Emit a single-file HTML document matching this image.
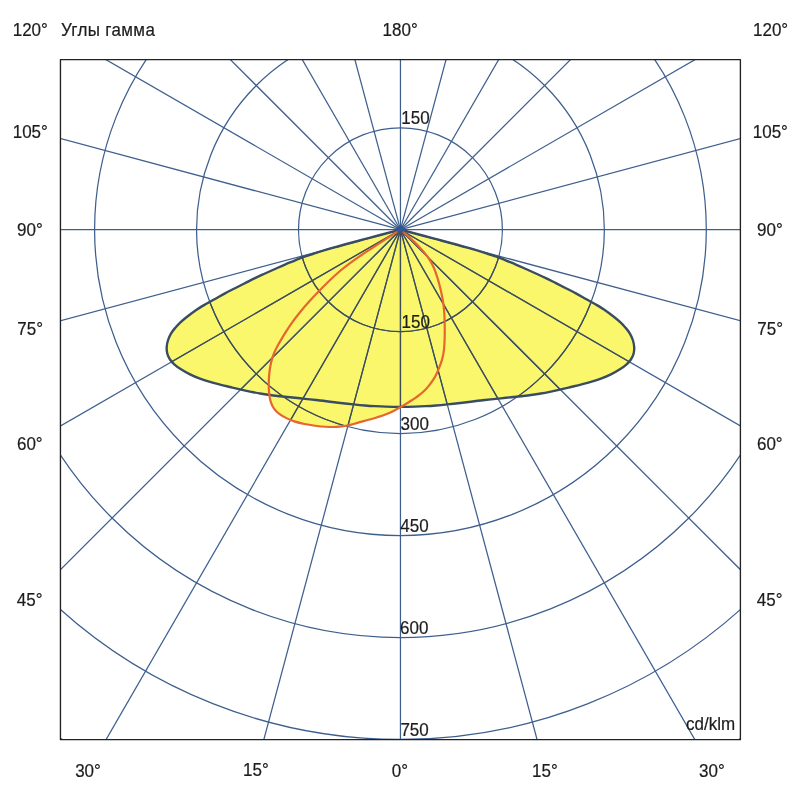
<!DOCTYPE html>
<html><head><meta charset="utf-8"><style>
html,body{margin:0;padding:0;background:#fff;width:800px;height:800px;overflow:hidden}
svg{display:block}
text{font-family:"Liberation Sans",sans-serif;font-size:17.0px;fill:#1c1c1c;stroke:#1c1c1c;stroke-width:0.2px}
</style></head><body>
<svg width="800" height="800" viewBox="0 0 800 800">
<defs><clipPath id="y"><path d="M400.45,229.70 C394.81,231.19 377.81,235.64 366.61,238.64 C355.41,241.64 344.00,244.59 333.26,247.71 C322.53,250.84 307.38,255.79 302.20,257.40 C300.93,257.94 297.45,259.44 294.58,260.63 C291.71,261.83 288.26,263.18 285.00,264.57 C281.74,265.97 278.33,267.51 275.00,269.00 C271.67,270.49 268.33,271.98 265.00,273.50 C261.67,275.02 258.33,276.49 255.00,278.11 C251.67,279.72 248.33,281.49 245.00,283.17 C241.67,284.85 238.33,286.51 235.00,288.20 C231.67,289.89 228.33,291.53 225.00,293.32 C221.67,295.11 218.33,297.08 215.00,298.95 C211.67,300.83 208.31,302.63 205.00,304.57 C201.69,306.52 198.24,308.55 195.15,310.65 C192.06,312.75 188.95,315.21 186.45,317.20 C183.95,319.19 182.03,320.79 180.15,322.57 C178.27,324.36 176.66,326.14 175.15,327.93 C173.65,329.71 172.30,331.29 171.12,333.30 C169.94,335.31 168.81,337.72 168.07,340.00 C167.33,342.28 166.82,344.70 166.70,347.00 C166.58,349.30 166.78,351.72 167.33,353.80 C167.88,355.89 168.85,357.79 170.01,359.53 C171.17,361.28 172.50,362.71 174.27,364.28 C176.04,365.86 177.98,367.32 180.60,368.99 C183.22,370.67 186.77,372.75 190.00,374.36 C193.23,375.97 196.67,377.39 200.00,378.65 C203.33,379.91 206.67,380.92 210.00,381.91 C213.33,382.90 216.67,383.72 220.00,384.57 C223.33,385.42 226.67,386.20 230.00,387.01 C233.33,387.83 236.67,388.68 240.00,389.44 C243.33,390.20 246.67,390.90 250.00,391.59 C253.33,392.27 256.67,392.95 260.00,393.52 C263.33,394.10 266.67,394.59 270.00,395.04 C273.33,395.49 276.67,395.83 280.00,396.20 C283.33,396.57 286.67,396.93 290.00,397.29 C293.33,397.64 296.67,397.96 300.00,398.31 C303.33,398.66 306.67,399.03 310.00,399.38 C313.33,399.74 316.67,400.06 320.00,400.44 C323.33,400.83 326.57,401.27 330.00,401.69 C333.43,402.10 336.68,402.50 340.60,402.94 C344.53,403.39 349.51,403.92 353.55,404.34 C357.59,404.76 361.27,405.13 364.85,405.44 C368.42,405.75 371.51,405.97 375.00,406.17 C378.49,406.37 381.58,406.54 385.82,406.65 C390.06,406.77 395.57,406.84 400.45,406.84 C405.33,406.84 410.84,406.77 415.08,406.66 C419.32,406.54 422.41,406.37 425.90,406.17 C429.39,405.97 432.47,405.74 436.05,405.44 C439.62,405.13 443.31,404.76 447.35,404.34 C451.39,403.92 456.37,403.39 460.30,402.94 C464.22,402.50 467.47,402.10 470.90,401.69 C474.33,401.27 477.57,400.83 480.90,400.44 C484.23,400.06 487.57,399.74 490.90,399.38 C494.23,399.03 497.57,398.67 500.90,398.32 C504.23,397.97 507.57,397.64 510.90,397.29 C514.23,396.93 517.57,396.57 520.90,396.20 C524.23,395.83 527.57,395.49 530.90,395.04 C534.23,394.59 537.57,394.10 540.90,393.52 C544.23,392.95 547.57,392.27 550.90,391.59 C554.23,390.90 557.57,390.20 560.90,389.44 C564.23,388.68 567.57,387.83 570.90,387.01 C574.23,386.20 577.57,385.42 580.90,384.57 C584.23,383.72 587.57,382.90 590.90,381.91 C594.23,380.92 597.57,379.91 600.90,378.65 C604.23,377.39 607.67,375.97 610.90,374.36 C614.13,372.75 617.68,370.67 620.30,368.99 C622.92,367.32 624.86,365.86 626.63,364.28 C628.39,362.71 629.73,361.28 630.89,359.53 C632.05,357.79 633.02,355.89 633.57,353.81 C634.12,351.72 634.32,349.30 634.20,347.00 C634.08,344.70 633.57,342.28 632.83,340.00 C632.09,337.72 630.96,335.31 629.78,333.30 C628.60,331.29 627.25,329.71 625.75,327.93 C624.24,326.14 622.63,324.36 620.75,322.57 C618.87,320.79 616.95,319.19 614.45,317.20 C611.95,315.21 608.84,312.75 605.75,310.65 C602.66,308.55 599.21,306.52 595.90,304.57 C592.59,302.63 589.23,300.83 585.90,298.95 C582.57,297.08 579.23,295.11 575.90,293.32 C572.57,291.53 569.23,289.89 565.90,288.20 C562.57,286.51 559.23,284.85 555.90,283.17 C552.57,281.49 549.23,279.72 545.90,278.10 C542.57,276.49 539.23,275.02 535.90,273.50 C532.57,271.98 529.23,270.49 525.90,269.00 C522.57,267.51 519.16,265.97 515.90,264.57 C512.64,263.18 509.19,261.83 506.32,260.63 C503.45,259.44 499.97,257.94 498.70,257.40 C493.52,255.79 478.37,250.84 467.64,247.71 C456.90,244.59 445.49,241.64 434.29,238.64 C423.09,235.64 406.09,231.19 400.45,229.70 Z"/><path d="M400.45,229.70 C395.05,233.19 376.35,245.17 368.07,250.65 C359.78,256.14 355.43,259.20 350.75,262.59 C346.07,265.99 343.48,268.06 340.00,271.01 C336.52,273.96 333.30,276.98 329.85,280.27 C326.40,283.56 322.63,287.35 319.30,290.77 C315.97,294.20 313.07,297.23 309.85,300.80 C306.63,304.38 303.23,308.23 300.00,312.22 C296.77,316.22 293.24,320.80 290.45,324.77 C287.66,328.75 285.35,332.68 283.28,336.05 C281.22,339.42 279.59,342.09 278.03,345.00 C276.47,347.91 275.07,350.64 273.92,353.50 C272.78,356.36 271.90,359.12 271.16,362.16 C270.43,365.21 269.92,368.41 269.52,371.75 C269.12,375.09 268.84,378.72 268.76,382.20 C268.69,385.68 268.77,389.37 269.09,392.65 C269.42,395.93 269.92,399.25 270.74,401.90 C271.56,404.55 272.59,406.56 274.01,408.55 C275.44,410.54 277.25,412.25 279.31,413.85 C281.38,415.45 283.91,416.87 286.41,418.13 C288.92,419.40 291.35,420.44 294.36,421.42 C297.38,422.41 301.04,423.32 304.50,424.03 C307.96,424.75 311.56,425.27 315.10,425.73 C318.64,426.18 322.15,426.57 325.71,426.76 C329.27,426.96 332.84,427.08 336.46,426.88 C340.08,426.67 343.78,426.22 347.41,425.51 C351.04,424.81 354.38,423.65 358.23,422.62 C362.07,421.58 366.13,420.56 370.45,419.29 C374.77,418.02 380.25,416.44 384.16,415.01 C388.07,413.59 391.09,412.11 393.90,410.75 C396.70,409.39 398.38,408.35 400.98,406.84 C403.57,405.33 406.93,403.28 409.47,401.70 C412.01,400.11 413.93,398.98 416.22,397.33 C418.52,395.68 421.07,393.86 423.26,391.82 C425.45,389.78 427.44,387.47 429.35,385.06 C431.27,382.66 433.16,380.07 434.72,377.38 C436.28,374.69 437.50,371.85 438.70,368.93 C439.91,366.00 441.10,363.07 441.98,359.85 C442.86,356.63 443.53,353.35 443.98,349.62 C444.43,345.90 444.55,341.59 444.67,337.50 C444.79,333.41 444.76,329.11 444.70,325.07 C444.64,321.04 444.55,317.02 444.30,313.30 C444.06,309.58 443.77,306.45 443.22,302.78 C442.67,299.10 441.94,295.29 441.02,291.27 C440.10,287.26 438.94,282.71 437.70,278.69 C436.47,274.68 435.19,270.72 433.61,267.20 C432.02,263.69 430.49,260.88 428.19,257.61 C425.89,254.33 422.83,250.84 419.81,247.56 C416.79,244.28 413.29,240.88 410.07,237.90 C406.84,234.92 402.05,231.07 400.45,229.70 Z"/></clipPath><clipPath id="c"><rect x="60.45" y="59.6" width="679.9499999999999" height="680.1"/></clipPath></defs>
<rect width="800" height="800" fill="#fff"/>
<g clip-path="url(#c)">
<path d="M400.45,229.70 C394.81,231.19 377.81,235.64 366.61,238.64 C355.41,241.64 344.00,244.59 333.26,247.71 C322.53,250.84 307.38,255.79 302.20,257.40 C300.93,257.94 297.45,259.44 294.58,260.63 C291.71,261.83 288.26,263.18 285.00,264.57 C281.74,265.97 278.33,267.51 275.00,269.00 C271.67,270.49 268.33,271.98 265.00,273.50 C261.67,275.02 258.33,276.49 255.00,278.11 C251.67,279.72 248.33,281.49 245.00,283.17 C241.67,284.85 238.33,286.51 235.00,288.20 C231.67,289.89 228.33,291.53 225.00,293.32 C221.67,295.11 218.33,297.08 215.00,298.95 C211.67,300.83 208.31,302.63 205.00,304.57 C201.69,306.52 198.24,308.55 195.15,310.65 C192.06,312.75 188.95,315.21 186.45,317.20 C183.95,319.19 182.03,320.79 180.15,322.57 C178.27,324.36 176.66,326.14 175.15,327.93 C173.65,329.71 172.30,331.29 171.12,333.30 C169.94,335.31 168.81,337.72 168.07,340.00 C167.33,342.28 166.82,344.70 166.70,347.00 C166.58,349.30 166.78,351.72 167.33,353.80 C167.88,355.89 168.85,357.79 170.01,359.53 C171.17,361.28 172.50,362.71 174.27,364.28 C176.04,365.86 177.98,367.32 180.60,368.99 C183.22,370.67 186.77,372.75 190.00,374.36 C193.23,375.97 196.67,377.39 200.00,378.65 C203.33,379.91 206.67,380.92 210.00,381.91 C213.33,382.90 216.67,383.72 220.00,384.57 C223.33,385.42 226.67,386.20 230.00,387.01 C233.33,387.83 236.67,388.68 240.00,389.44 C243.33,390.20 246.67,390.90 250.00,391.59 C253.33,392.27 256.67,392.95 260.00,393.52 C263.33,394.10 266.67,394.59 270.00,395.04 C273.33,395.49 276.67,395.83 280.00,396.20 C283.33,396.57 286.67,396.93 290.00,397.29 C293.33,397.64 296.67,397.96 300.00,398.31 C303.33,398.66 306.67,399.03 310.00,399.38 C313.33,399.74 316.67,400.06 320.00,400.44 C323.33,400.83 326.57,401.27 330.00,401.69 C333.43,402.10 336.68,402.50 340.60,402.94 C344.53,403.39 349.51,403.92 353.55,404.34 C357.59,404.76 361.27,405.13 364.85,405.44 C368.42,405.75 371.51,405.97 375.00,406.17 C378.49,406.37 381.58,406.54 385.82,406.65 C390.06,406.77 395.57,406.84 400.45,406.84 C405.33,406.84 410.84,406.77 415.08,406.66 C419.32,406.54 422.41,406.37 425.90,406.17 C429.39,405.97 432.47,405.74 436.05,405.44 C439.62,405.13 443.31,404.76 447.35,404.34 C451.39,403.92 456.37,403.39 460.30,402.94 C464.22,402.50 467.47,402.10 470.90,401.69 C474.33,401.27 477.57,400.83 480.90,400.44 C484.23,400.06 487.57,399.74 490.90,399.38 C494.23,399.03 497.57,398.67 500.90,398.32 C504.23,397.97 507.57,397.64 510.90,397.29 C514.23,396.93 517.57,396.57 520.90,396.20 C524.23,395.83 527.57,395.49 530.90,395.04 C534.23,394.59 537.57,394.10 540.90,393.52 C544.23,392.95 547.57,392.27 550.90,391.59 C554.23,390.90 557.57,390.20 560.90,389.44 C564.23,388.68 567.57,387.83 570.90,387.01 C574.23,386.20 577.57,385.42 580.90,384.57 C584.23,383.72 587.57,382.90 590.90,381.91 C594.23,380.92 597.57,379.91 600.90,378.65 C604.23,377.39 607.67,375.97 610.90,374.36 C614.13,372.75 617.68,370.67 620.30,368.99 C622.92,367.32 624.86,365.86 626.63,364.28 C628.39,362.71 629.73,361.28 630.89,359.53 C632.05,357.79 633.02,355.89 633.57,353.81 C634.12,351.72 634.32,349.30 634.20,347.00 C634.08,344.70 633.57,342.28 632.83,340.00 C632.09,337.72 630.96,335.31 629.78,333.30 C628.60,331.29 627.25,329.71 625.75,327.93 C624.24,326.14 622.63,324.36 620.75,322.57 C618.87,320.79 616.95,319.19 614.45,317.20 C611.95,315.21 608.84,312.75 605.75,310.65 C602.66,308.55 599.21,306.52 595.90,304.57 C592.59,302.63 589.23,300.83 585.90,298.95 C582.57,297.08 579.23,295.11 575.90,293.32 C572.57,291.53 569.23,289.89 565.90,288.20 C562.57,286.51 559.23,284.85 555.90,283.17 C552.57,281.49 549.23,279.72 545.90,278.10 C542.57,276.49 539.23,275.02 535.90,273.50 C532.57,271.98 529.23,270.49 525.90,269.00 C522.57,267.51 519.16,265.97 515.90,264.57 C512.64,263.18 509.19,261.83 506.32,260.63 C503.45,259.44 499.97,257.94 498.70,257.40 C493.52,255.79 478.37,250.84 467.64,247.71 C456.90,244.59 445.49,241.64 434.29,238.64 C423.09,235.64 406.09,231.19 400.45,229.70 Z" fill="#fbf76c" stroke="none"/>
<path d="M400.45,229.70 C395.05,233.19 376.35,245.17 368.07,250.65 C359.78,256.14 355.43,259.20 350.75,262.59 C346.07,265.99 343.48,268.06 340.00,271.01 C336.52,273.96 333.30,276.98 329.85,280.27 C326.40,283.56 322.63,287.35 319.30,290.77 C315.97,294.20 313.07,297.23 309.85,300.80 C306.63,304.38 303.23,308.23 300.00,312.22 C296.77,316.22 293.24,320.80 290.45,324.77 C287.66,328.75 285.35,332.68 283.28,336.05 C281.22,339.42 279.59,342.09 278.03,345.00 C276.47,347.91 275.07,350.64 273.92,353.50 C272.78,356.36 271.90,359.12 271.16,362.16 C270.43,365.21 269.92,368.41 269.52,371.75 C269.12,375.09 268.84,378.72 268.76,382.20 C268.69,385.68 268.77,389.37 269.09,392.65 C269.42,395.93 269.92,399.25 270.74,401.90 C271.56,404.55 272.59,406.56 274.01,408.55 C275.44,410.54 277.25,412.25 279.31,413.85 C281.38,415.45 283.91,416.87 286.41,418.13 C288.92,419.40 291.35,420.44 294.36,421.42 C297.38,422.41 301.04,423.32 304.50,424.03 C307.96,424.75 311.56,425.27 315.10,425.73 C318.64,426.18 322.15,426.57 325.71,426.76 C329.27,426.96 332.84,427.08 336.46,426.88 C340.08,426.67 343.78,426.22 347.41,425.51 C351.04,424.81 354.38,423.65 358.23,422.62 C362.07,421.58 366.13,420.56 370.45,419.29 C374.77,418.02 380.25,416.44 384.16,415.01 C388.07,413.59 391.09,412.11 393.90,410.75 C396.70,409.39 398.38,408.35 400.98,406.84 C403.57,405.33 406.93,403.28 409.47,401.70 C412.01,400.11 413.93,398.98 416.22,397.33 C418.52,395.68 421.07,393.86 423.26,391.82 C425.45,389.78 427.44,387.47 429.35,385.06 C431.27,382.66 433.16,380.07 434.72,377.38 C436.28,374.69 437.50,371.85 438.70,368.93 C439.91,366.00 441.10,363.07 441.98,359.85 C442.86,356.63 443.53,353.35 443.98,349.62 C444.43,345.90 444.55,341.59 444.67,337.50 C444.79,333.41 444.76,329.11 444.70,325.07 C444.64,321.04 444.55,317.02 444.30,313.30 C444.06,309.58 443.77,306.45 443.22,302.78 C442.67,299.10 441.94,295.29 441.02,291.27 C440.10,287.26 438.94,282.71 437.70,278.69 C436.47,274.68 435.19,270.72 433.61,267.20 C432.02,263.69 430.49,260.88 428.19,257.61 C425.89,254.33 422.83,250.84 419.81,247.56 C416.79,244.28 413.29,240.88 410.07,237.90 C406.84,234.92 402.05,231.07 400.45,229.70 Z" fill="#fbf76c" stroke="none"/>
<g stroke="#3e5f8e" stroke-width="1.25" fill="none">
<line x1="400.45" y1="229.7" x2="400.45" y2="1029.70"/><line x1="400.45" y1="229.7" x2="607.51" y2="1002.44"/><line x1="400.45" y1="229.7" x2="800.45" y2="922.52"/><line x1="400.45" y1="229.7" x2="966.14" y2="795.39"/><line x1="400.45" y1="229.7" x2="1093.27" y2="629.70"/><line x1="400.45" y1="229.7" x2="1173.19" y2="436.76"/><line x1="400.45" y1="229.7" x2="1200.45" y2="229.70"/><line x1="400.45" y1="229.7" x2="1173.19" y2="22.64"/><line x1="400.45" y1="229.7" x2="1093.27" y2="-170.30"/><line x1="400.45" y1="229.7" x2="966.14" y2="-335.99"/><line x1="400.45" y1="229.7" x2="800.45" y2="-463.12"/><line x1="400.45" y1="229.7" x2="607.51" y2="-543.04"/><line x1="400.45" y1="229.7" x2="400.45" y2="-570.30"/><line x1="400.45" y1="229.7" x2="193.39" y2="-543.04"/><line x1="400.45" y1="229.7" x2="0.45" y2="-463.12"/><line x1="400.45" y1="229.7" x2="-165.24" y2="-335.99"/><line x1="400.45" y1="229.7" x2="-292.37" y2="-170.30"/><line x1="400.45" y1="229.7" x2="-372.29" y2="22.64"/><line x1="400.45" y1="229.7" x2="-399.55" y2="229.70"/><line x1="400.45" y1="229.7" x2="-372.29" y2="436.76"/><line x1="400.45" y1="229.7" x2="-292.37" y2="629.70"/><line x1="400.45" y1="229.7" x2="-165.24" y2="795.39"/><line x1="400.45" y1="229.7" x2="0.45" y2="922.52"/><line x1="400.45" y1="229.7" x2="193.39" y2="1002.44"/>
<circle cx="400.45" cy="229.7" r="101.95"/><circle cx="400.45" cy="229.7" r="203.90"/><circle cx="400.45" cy="229.7" r="305.85"/><circle cx="400.45" cy="229.7" r="407.80"/><circle cx="400.45" cy="229.7" r="509.75"/><circle cx="400.45" cy="229.7" r="611.70"/>
</g>
<g stroke="#3f4d55" stroke-width="1.25" fill="none" clip-path="url(#y)">
<line x1="400.45" y1="229.7" x2="400.45" y2="1029.70"/><line x1="400.45" y1="229.7" x2="607.51" y2="1002.44"/><line x1="400.45" y1="229.7" x2="800.45" y2="922.52"/><line x1="400.45" y1="229.7" x2="966.14" y2="795.39"/><line x1="400.45" y1="229.7" x2="1093.27" y2="629.70"/><line x1="400.45" y1="229.7" x2="1173.19" y2="436.76"/><line x1="400.45" y1="229.7" x2="1200.45" y2="229.70"/><line x1="400.45" y1="229.7" x2="1173.19" y2="22.64"/><line x1="400.45" y1="229.7" x2="1093.27" y2="-170.30"/><line x1="400.45" y1="229.7" x2="966.14" y2="-335.99"/><line x1="400.45" y1="229.7" x2="800.45" y2="-463.12"/><line x1="400.45" y1="229.7" x2="607.51" y2="-543.04"/><line x1="400.45" y1="229.7" x2="400.45" y2="-570.30"/><line x1="400.45" y1="229.7" x2="193.39" y2="-543.04"/><line x1="400.45" y1="229.7" x2="0.45" y2="-463.12"/><line x1="400.45" y1="229.7" x2="-165.24" y2="-335.99"/><line x1="400.45" y1="229.7" x2="-292.37" y2="-170.30"/><line x1="400.45" y1="229.7" x2="-372.29" y2="22.64"/><line x1="400.45" y1="229.7" x2="-399.55" y2="229.70"/><line x1="400.45" y1="229.7" x2="-372.29" y2="436.76"/><line x1="400.45" y1="229.7" x2="-292.37" y2="629.70"/><line x1="400.45" y1="229.7" x2="-165.24" y2="795.39"/><line x1="400.45" y1="229.7" x2="0.45" y2="922.52"/><line x1="400.45" y1="229.7" x2="193.39" y2="1002.44"/>
<circle cx="400.45" cy="229.7" r="101.95"/><circle cx="400.45" cy="229.7" r="203.90"/><circle cx="400.45" cy="229.7" r="305.85"/><circle cx="400.45" cy="229.7" r="407.80"/><circle cx="400.45" cy="229.7" r="509.75"/><circle cx="400.45" cy="229.7" r="611.70"/>
</g>
<path d="M400.45,229.70 C394.81,231.19 377.81,235.64 366.61,238.64 C355.41,241.64 344.00,244.59 333.26,247.71 C322.53,250.84 307.38,255.79 302.20,257.40 C300.93,257.94 297.45,259.44 294.58,260.63 C291.71,261.83 288.26,263.18 285.00,264.57 C281.74,265.97 278.33,267.51 275.00,269.00 C271.67,270.49 268.33,271.98 265.00,273.50 C261.67,275.02 258.33,276.49 255.00,278.11 C251.67,279.72 248.33,281.49 245.00,283.17 C241.67,284.85 238.33,286.51 235.00,288.20 C231.67,289.89 228.33,291.53 225.00,293.32 C221.67,295.11 218.33,297.08 215.00,298.95 C211.67,300.83 208.31,302.63 205.00,304.57 C201.69,306.52 198.24,308.55 195.15,310.65 C192.06,312.75 188.95,315.21 186.45,317.20 C183.95,319.19 182.03,320.79 180.15,322.57 C178.27,324.36 176.66,326.14 175.15,327.93 C173.65,329.71 172.30,331.29 171.12,333.30 C169.94,335.31 168.81,337.72 168.07,340.00 C167.33,342.28 166.82,344.70 166.70,347.00 C166.58,349.30 166.78,351.72 167.33,353.80 C167.88,355.89 168.85,357.79 170.01,359.53 C171.17,361.28 172.50,362.71 174.27,364.28 C176.04,365.86 177.98,367.32 180.60,368.99 C183.22,370.67 186.77,372.75 190.00,374.36 C193.23,375.97 196.67,377.39 200.00,378.65 C203.33,379.91 206.67,380.92 210.00,381.91 C213.33,382.90 216.67,383.72 220.00,384.57 C223.33,385.42 226.67,386.20 230.00,387.01 C233.33,387.83 236.67,388.68 240.00,389.44 C243.33,390.20 246.67,390.90 250.00,391.59 C253.33,392.27 256.67,392.95 260.00,393.52 C263.33,394.10 266.67,394.59 270.00,395.04 C273.33,395.49 276.67,395.83 280.00,396.20 C283.33,396.57 286.67,396.93 290.00,397.29 C293.33,397.64 296.67,397.96 300.00,398.31 C303.33,398.66 306.67,399.03 310.00,399.38 C313.33,399.74 316.67,400.06 320.00,400.44 C323.33,400.83 326.57,401.27 330.00,401.69 C333.43,402.10 336.68,402.50 340.60,402.94 C344.53,403.39 349.51,403.92 353.55,404.34 C357.59,404.76 361.27,405.13 364.85,405.44 C368.42,405.75 371.51,405.97 375.00,406.17 C378.49,406.37 381.58,406.54 385.82,406.65 C390.06,406.77 395.57,406.84 400.45,406.84 C405.33,406.84 410.84,406.77 415.08,406.66 C419.32,406.54 422.41,406.37 425.90,406.17 C429.39,405.97 432.47,405.74 436.05,405.44 C439.62,405.13 443.31,404.76 447.35,404.34 C451.39,403.92 456.37,403.39 460.30,402.94 C464.22,402.50 467.47,402.10 470.90,401.69 C474.33,401.27 477.57,400.83 480.90,400.44 C484.23,400.06 487.57,399.74 490.90,399.38 C494.23,399.03 497.57,398.67 500.90,398.32 C504.23,397.97 507.57,397.64 510.90,397.29 C514.23,396.93 517.57,396.57 520.90,396.20 C524.23,395.83 527.57,395.49 530.90,395.04 C534.23,394.59 537.57,394.10 540.90,393.52 C544.23,392.95 547.57,392.27 550.90,391.59 C554.23,390.90 557.57,390.20 560.90,389.44 C564.23,388.68 567.57,387.83 570.90,387.01 C574.23,386.20 577.57,385.42 580.90,384.57 C584.23,383.72 587.57,382.90 590.90,381.91 C594.23,380.92 597.57,379.91 600.90,378.65 C604.23,377.39 607.67,375.97 610.90,374.36 C614.13,372.75 617.68,370.67 620.30,368.99 C622.92,367.32 624.86,365.86 626.63,364.28 C628.39,362.71 629.73,361.28 630.89,359.53 C632.05,357.79 633.02,355.89 633.57,353.81 C634.12,351.72 634.32,349.30 634.20,347.00 C634.08,344.70 633.57,342.28 632.83,340.00 C632.09,337.72 630.96,335.31 629.78,333.30 C628.60,331.29 627.25,329.71 625.75,327.93 C624.24,326.14 622.63,324.36 620.75,322.57 C618.87,320.79 616.95,319.19 614.45,317.20 C611.95,315.21 608.84,312.75 605.75,310.65 C602.66,308.55 599.21,306.52 595.90,304.57 C592.59,302.63 589.23,300.83 585.90,298.95 C582.57,297.08 579.23,295.11 575.90,293.32 C572.57,291.53 569.23,289.89 565.90,288.20 C562.57,286.51 559.23,284.85 555.90,283.17 C552.57,281.49 549.23,279.72 545.90,278.10 C542.57,276.49 539.23,275.02 535.90,273.50 C532.57,271.98 529.23,270.49 525.90,269.00 C522.57,267.51 519.16,265.97 515.90,264.57 C512.64,263.18 509.19,261.83 506.32,260.63 C503.45,259.44 499.97,257.94 498.70,257.40 C493.52,255.79 478.37,250.84 467.64,247.71 C456.90,244.59 445.49,241.64 434.29,238.64 C423.09,235.64 406.09,231.19 400.45,229.70 Z" fill="none" stroke="#394c62" stroke-width="2.4" stroke-linejoin="round"/>
<path d="M400.45,229.70 C395.05,233.19 376.35,245.17 368.07,250.65 C359.78,256.14 355.43,259.20 350.75,262.59 C346.07,265.99 343.48,268.06 340.00,271.01 C336.52,273.96 333.30,276.98 329.85,280.27 C326.40,283.56 322.63,287.35 319.30,290.77 C315.97,294.20 313.07,297.23 309.85,300.80 C306.63,304.38 303.23,308.23 300.00,312.22 C296.77,316.22 293.24,320.80 290.45,324.77 C287.66,328.75 285.35,332.68 283.28,336.05 C281.22,339.42 279.59,342.09 278.03,345.00 C276.47,347.91 275.07,350.64 273.92,353.50 C272.78,356.36 271.90,359.12 271.16,362.16 C270.43,365.21 269.92,368.41 269.52,371.75 C269.12,375.09 268.84,378.72 268.76,382.20 C268.69,385.68 268.77,389.37 269.09,392.65 C269.42,395.93 269.92,399.25 270.74,401.90 C271.56,404.55 272.59,406.56 274.01,408.55 C275.44,410.54 277.25,412.25 279.31,413.85 C281.38,415.45 283.91,416.87 286.41,418.13 C288.92,419.40 291.35,420.44 294.36,421.42 C297.38,422.41 301.04,423.32 304.50,424.03 C307.96,424.75 311.56,425.27 315.10,425.73 C318.64,426.18 322.15,426.57 325.71,426.76 C329.27,426.96 332.84,427.08 336.46,426.88 C340.08,426.67 343.78,426.22 347.41,425.51 C351.04,424.81 354.38,423.65 358.23,422.62 C362.07,421.58 366.13,420.56 370.45,419.29 C374.77,418.02 380.25,416.44 384.16,415.01 C388.07,413.59 391.09,412.11 393.90,410.75 C396.70,409.39 398.38,408.35 400.98,406.84 C403.57,405.33 406.93,403.28 409.47,401.70 C412.01,400.11 413.93,398.98 416.22,397.33 C418.52,395.68 421.07,393.86 423.26,391.82 C425.45,389.78 427.44,387.47 429.35,385.06 C431.27,382.66 433.16,380.07 434.72,377.38 C436.28,374.69 437.50,371.85 438.70,368.93 C439.91,366.00 441.10,363.07 441.98,359.85 C442.86,356.63 443.53,353.35 443.98,349.62 C444.43,345.90 444.55,341.59 444.67,337.50 C444.79,333.41 444.76,329.11 444.70,325.07 C444.64,321.04 444.55,317.02 444.30,313.30 C444.06,309.58 443.77,306.45 443.22,302.78 C442.67,299.10 441.94,295.29 441.02,291.27 C440.10,287.26 438.94,282.71 437.70,278.69 C436.47,274.68 435.19,270.72 433.61,267.20 C432.02,263.69 430.49,260.88 428.19,257.61 C425.89,254.33 422.83,250.84 419.81,247.56 C416.79,244.28 413.29,240.88 410.07,237.90 C406.84,234.92 402.05,231.07 400.45,229.70 Z" fill="none" stroke="#e6662e" stroke-width="2.2" stroke-linejoin="round"/>
<circle cx="400.45" cy="229.7" r="4.6" fill="#2f5aa0" opacity="0.35"/>
<circle cx="400.45" cy="229.39999999999998" r="3.2" fill="#2a55a0" opacity="0.9"/>
</g>
<rect x="60.45" y="59.6" width="679.9499999999999" height="680.1" fill="none" stroke="#222222" stroke-width="1.35" stroke-linejoin="round"/>
<g style="will-change:transform"><text transform="translate(12.72,36.20) scale(1,1.03)">120°</text><text transform="translate(60.89,36.30) scale(1,1.03)" letter-spacing="0.35">Углы гамма</text><text transform="translate(382.62,36.00) scale(1,1.03)">180°</text><text transform="translate(752.98,36.25) scale(1,1.03)">120°</text><text transform="translate(12.72,137.50) scale(1,1.03)">105°</text><text transform="translate(752.73,137.50) scale(1,1.03)">105°</text><text transform="translate(17.04,236.30) scale(1,1.03)">90°</text><text transform="translate(757.03,236.30) scale(1,1.03)">90°</text><text transform="translate(17.35,335.30) scale(1,1.03)">75°</text><text transform="translate(757.35,335.30) scale(1,1.03)">75°</text><text transform="translate(16.95,450.25) scale(1,1.03)">60°</text><text transform="translate(756.95,450.25) scale(1,1.03)">60°</text><text transform="translate(16.82,606.25) scale(1,1.03)">45°</text><text transform="translate(756.83,606.25) scale(1,1.03)">45°</text><text transform="translate(75.17,776.60) scale(1,1.03)">30°</text><text transform="translate(243.12,776.40) scale(1,1.03)">15°</text><text transform="translate(391.72,776.60) scale(1,1.03)">0°</text><text transform="translate(532.08,776.50) scale(1,1.03)">15°</text><text transform="translate(699.07,776.60) scale(1,1.03)">30°</text><text transform="translate(401.23,124.00) scale(1,1.03)">150</text><text transform="translate(401.53,327.90) scale(1,1.03)">150</text><text transform="translate(400.57,430.30) scale(1,1.03)">300</text><text transform="translate(400.32,531.90) scale(1,1.03)">450</text><text transform="translate(400.05,634.10) scale(1,1.03)">600</text><text transform="translate(400.40,736.25) scale(1,1.03)">750</text><text transform="translate(686.03,729.90) scale(1,1.03)">cd/klm</text></g>
</svg>
</body></html>
